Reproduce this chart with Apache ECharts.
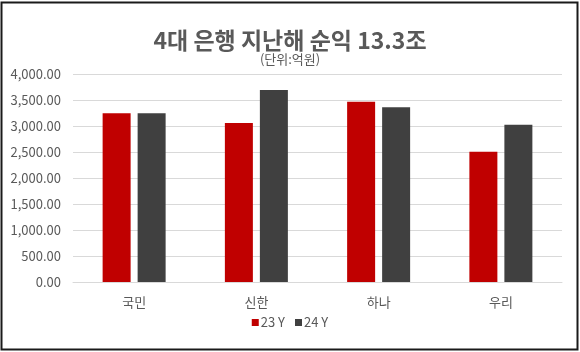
<!DOCTYPE html>
<html><head><meta charset="utf-8">
<script src="https://cdn.jsdelivr.net/npm/echarts@6/dist/echarts.min.js"></script>
<style>html,body{margin:0;padding:0;background:#fff}#c{width:580px;height:352px}</style>
</head><body><div id="c"></div>
<script>
const categories = ['국민', '신한', '하나', '우리'];
const s23 = [3244, 3058, 3467, 2507];
const s24 = [3244, 3691, 3359, 3025];
const seriesNames = ['23 Y', '24 Y'];
const titleText = '4대 은행 지난해 순익 13.3조';
const subText = '(단위:억원)';

const font = '"Noto Sans CJK KR", "Noto Sans", sans-serif';
const chart = echarts.init(document.getElementById('c'), null, {renderer: 'canvas'});
chart.setOption({
  animation: false,
  backgroundColor: '#fff',
  textStyle: {fontFamily: font},
  title: {
    text: titleText, subtext: subText, left: 'center', top: 23, itemGap: 0,
    textStyle: {fontSize: 23, fontWeight: 'bold', color: '#595959', fontFamily: font, lineHeight: 25},
    subtextStyle: {fontSize: 13, color: '#595959', fontFamily: font, lineHeight: 13}
  },
  legend: {
    bottom: 18, left: 'center', itemWidth: 7, itemHeight: 7, itemGap: 10,
    icon: 'rect',
    textStyle: {fontSize: 13, color: '#595959', fontFamily: font, padding: [0, 0, 0, -3]},
    data: seriesNames
  },
  grid: {left: 73, right: 18, top: 74, bottom: 70, containLabel: false},
  xAxis: {
    type: 'category', data: categories,
    axisLine: {show: true, lineStyle: {color: '#D9D9D9'}},
    axisTick: {show: false},
    axisLabel: {fontSize: 13, color: '#595959', margin: 14, fontFamily: font}
  },
  yAxis: {
    type: 'value', min: 0, max: 4000, interval: 500,
    axisLine: {show: false}, axisTick: {show: false},
    splitLine: {lineStyle: {color: '#D9D9D9'}},
    axisLabel: {
      fontSize: 13, color: '#595959', margin: 12, fontFamily: font,
      formatter: v => v.toLocaleString('en-US', {minimumFractionDigits: 2, maximumFractionDigits: 2})
    }
  },
  series: [
    {name: seriesNames[0], type: 'bar', data: s23, barWidth: 28, barGap: '25%', itemStyle: {color: '#C00000'}},
    {name: seriesNames[1], type: 'bar', data: s24, barWidth: 28, barGap: '25%', itemStyle: {color: '#404040'}}
  ],
  graphic: [
    {type: 'rect', shape: {x: 1.5, y: 2.5, width: 576, height: 347}, style: {fill: 'none', stroke: '#1a1a1a', lineWidth: 2}, silent: true}
  ]
});
</script></body></html>
